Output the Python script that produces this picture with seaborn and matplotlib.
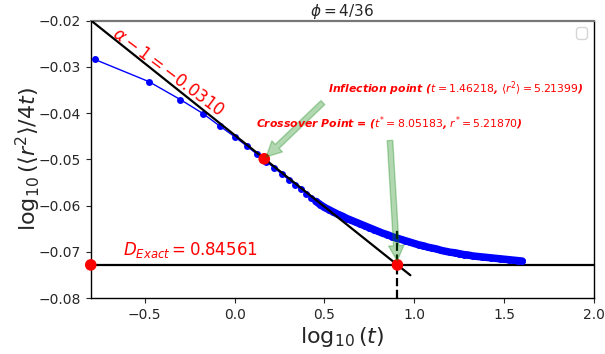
import numpy as np
import pandas as pd
import matplotlib
matplotlib.use("Agg")
import matplotlib.pyplot as plt
import seaborn as sns
import warnings
warnings.filterwarnings("ignore")

# ---- data ----
log_t = [-0.778, -0.477, -0.301, -0.176, -0.079, 0.000, 0.067, 0.125, 0.176,
         0.222, 0.263, 0.301, 0.336, 0.368, 0.398, 0.426, 0.452, 0.477,
         0.500, 0.525, 0.550, 0.575, 0.600, 0.625, 0.650, 0.675, 0.700,
         0.725, 0.750, 0.775, 0.800, 0.825, 0.850, 0.875, 0.900, 0.925,
         0.950, 0.975, 1.000, 1.025, 1.050, 1.075, 1.100, 1.125, 1.150,
         1.175, 1.200, 1.225, 1.250, 1.275, 1.300, 1.325, 1.350, 1.375,
         1.400, 1.425, 1.450, 1.475, 1.500, 1.525, 1.550, 1.575, 1.600]
log_msd = [-0.0284, -0.0332, -0.0371, -0.0401, -0.0429, -0.0451, -0.0471,
           -0.0489, -0.0505, -0.0519, -0.0532, -0.0544, -0.0555, -0.0565,
           -0.0574, -0.0583, -0.0591, -0.0598,
           -0.0604, -0.0609, -0.0614, -0.0619, -0.0623, -0.0628, -0.0632,
           -0.0636, -0.0640, -0.0644, -0.0648, -0.0652, -0.0656, -0.0660,
           -0.0663, -0.0667, -0.0670, -0.0673, -0.0676, -0.0679, -0.0682,
           -0.0685, -0.0687, -0.0690, -0.0692, -0.0694, -0.0697, -0.0699,
           -0.0701, -0.0702, -0.0704, -0.0706, -0.0707, -0.0709, -0.0710,
           -0.0711, -0.0712, -0.0713, -0.0714, -0.0715, -0.0716, -0.0717,
           -0.0718, -0.0719, -0.0720]
dense_from = 0.45            # beyond this the sampled points merge into a band

slope = -0.0310              # alpha - 1
D_exact = 0.84561
t_infl, r2_infl = 1.46218, 5.21399
t_cross, r_cross = 8.05183, 5.21870
fit_x = [-0.8, 0.978]
xlim = (-0.8, 2.0)
ylim = (-0.08, -0.02)
xticks = [-0.5, 0.0, 0.5, 1.0, 1.5, 2.0]
yticks = [-0.08, -0.07, -0.06, -0.05, -0.04, -0.03, -0.02]

# derived quantities
logD = np.log10(D_exact)
x_cross = np.log10(t_cross)
x_infl = np.log10(t_infl)
y_infl = np.log10(r2_infl / (4 * t_infl))
fit_y = [logD + slope * (x - x_cross) for x in fit_x]

sns.set_style("ticks")
plt.rcParams['font.family'] = ['DejaVu Sans']
plt.rcParams['mathtext.fontset'] = 'dejavusans'

fig = plt.figure(figsize=(6.05, 3.54), dpi=100)
ax = fig.add_axes([0.150, 0.158, 0.832, 0.784])

df = pd.DataFrame({"x": log_t, "y": log_msd})
sns.lineplot(data=df, x="x", y="y", ax=ax, color="blue", marker="o",
             markersize=5, markeredgewidth=0, linewidth=1, sort=False, zorder=3)
dense = df[df["x"] >= dense_from]
sns.lineplot(data=dense, x="x", y="y", ax=ax, color="blue", linewidth=5.4,
             sort=False, zorder=3, solid_capstyle="round")

fit_df = pd.DataFrame({"x": fit_x, "y": fit_y})
sns.lineplot(data=fit_df, x="x", y="y", ax=ax, color="black", linewidth=1.6,
             sort=False, zorder=4)

ax.axhline(logD, color="black", linewidth=1.6, zorder=2)
ax.plot([x_cross, x_cross], [ylim[0], -0.065], color="black", linestyle="--",
        linewidth=1.6, zorder=4)

red_df = pd.DataFrame({"x": [xlim[0], x_cross, x_infl], "y": [logD, logD, y_infl]})
sns.scatterplot(data=red_df, x="x", y="y", ax=ax, color="red", s=70,
                edgecolor="none", zorder=6, clip_on=False)

arrow = dict(color="green", alpha=0.3, shrink=0.03, width=4, headwidth=11,
             headlength=11)
ax.annotate(r"Inflection point ($t=1.46218$, $\langle r^2\rangle=5.21399$)",
            xy=(x_infl, y_infl), xytext=(0.52, -0.0355),
            color="red", fontsize=7.8, fontweight="bold", fontstyle="italic",
            arrowprops=arrow, zorder=7)
ax.annotate(r"Crossover Point = ($t^{*}=8.05183$, $r^{*}=5.21870$)",
            xy=(x_cross, logD), xytext=(0.12, -0.0432),
            color="red", fontsize=7.8, fontweight="bold", fontstyle="italic",
            arrowprops=arrow, zorder=7)

ax.text(-0.37, -0.0312, r"$\alpha-1=-0.0310$", color="red", fontsize=12,
        rotation=-37, rotation_mode="anchor", va="center", ha="center")
ax.text(-0.62, -0.0718, r"$D_{Exact}=0.84561$", color="red", fontsize=12,
        va="bottom", ha="left")

ax.set_xlim(*xlim)
ax.set_ylim(*ylim)
ax.set_xticks(xticks)
ax.set_yticks(yticks)
ax.tick_params(labelsize=10, direction="out", length=3.5, width=0.8)
ax.set_xlabel(r"$\log_{10}(t)$", fontsize=16, labelpad=2)
ax.set_ylabel(r"$\log_{10}(\langle r^2\rangle/4t)$", fontsize=16, labelpad=-3)
ax.set_title(r"$\phi=4/36$", fontsize=11, pad=0)
for s in ax.spines.values():
    s.set_color("black")
    s.set_linewidth(1.0)
ax.spines["top"].set_color("#777777")
ax.spines["top"].set_linewidth(1.6)

ax.legend(handles=[], loc="upper right")

fig.savefig("out.png", dpi=100)
